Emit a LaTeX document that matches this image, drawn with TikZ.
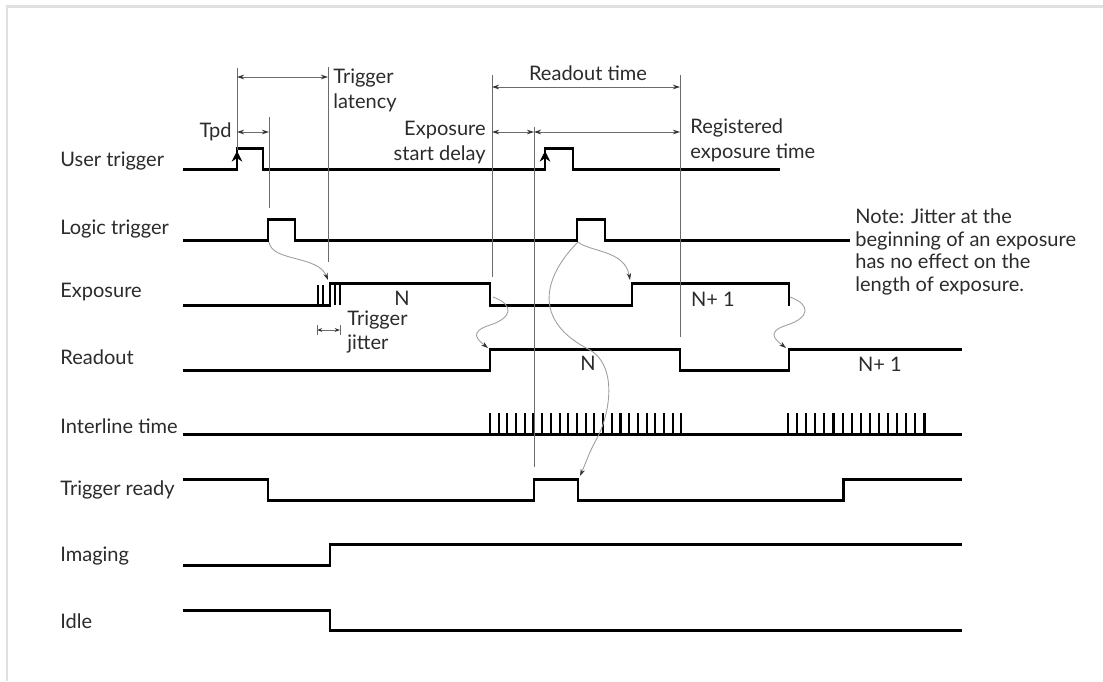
\documentclass[tikz,border=0pt]{standalone}
\usepackage{fontspec}
\setmainfont{Lato}
\usetikzlibrary{calc}
\usetikzlibrary{arrows.meta}
\definecolor{framegray}{rgb}{0.88,0.88,0.88}
\definecolor{guidegray}{rgb}{0.42,0.42,0.42}
\definecolor{curvegray}{rgb}{0.62,0.62,0.62}
\definecolor{txtgray}{rgb}{0.17,0.17,0.17}
\tikzstyle{every node}=[font=\fontsize{11.4}{14.2}\selectfont,text=txtgray,inner sep=0pt]

\begin{document}
\begin{tikzpicture}[line join=miter,>={Stealth[length=4pt,width=2.6pt,color=black!80]},x=0.02cm,y=-0.02cm,
    sig/.style={line width=1.7pt},
    tick/.style={line width=1.2pt},
    guide/.style={line width=0.5pt,color=guidegray},
    dim/.style={<->,line width=0.5pt,color=guidegray},
    cause/.style={->,line width=0.5pt,color=curvegray}]
            \useasboundingbox (0,0) rectangle (1103,681);
            \draw [line width=1.2pt,color=framegray] (7,681) -- (7,6.5) -- (1103,6.5);
            % signal names
            \node (lUser) [anchor=west] at (60,161) {User trigger};
            \node (lLogic) [anchor=west] at (60,229) {Logic trigger};
            \node (lExpo) [anchor=west] at (60,292) {Exposure};
            \node (lRead) [anchor=west] at (60,357) {Readout};
            \node (lLine) [anchor=west] at (60,426) {Interline time};
            \node (lReady) [anchor=west] at (60,490) {Trigger ready};
            \node (lImag) [anchor=west] at (60,556) {Imaging};
            \node (lIdle) [anchor=west] at (60,621) {Idle};
            % waveforms
            \draw [sig] (183,169) -- (237,169) -- (237,148) -- (263,148) -- (263,169) -- (545,169) -- (545,148) -- (573,148) -- (573,169) -- (780,169);
            \draw [-{Stealth[length=6pt,width=6pt]},line width=1pt] (237,166) -- (237,151);
            \draw [-{Stealth[length=6pt,width=6pt]},line width=1pt] (545,166) -- (545,151);
            \draw [sig] (183,240) -- (268,240) -- (268,219) -- (295,219) -- (295,240) -- (577,240) -- (577,219) -- (605,219) -- (605,240) -- (850,240);
            \draw [sig] (183,305) -- (330,305) -- (330,283) -- (490,283) -- (490,305) -- (632,305) -- (632,283) -- (789,283) -- (789,306);
            \foreach \x in {318,323,335,340}
                \draw [tick] (\x,305) -- (\x,285);
            \draw [sig] (183,370) -- (490,370) -- (490,349) -- (680,349) -- (680,370) -- (789,370) -- (789,349) -- (962,349);
            \draw [sig] (183,434) -- (962,434);
            \foreach \x in {0,...,22}
                \draw [tick] ({490+\x*8.7},434) -- ({490+\x*8.7},413);
            \foreach \x in {0,...,15}
                \draw [tick] ({788+\x*9.1},434) -- ({788+\x*9.1},413);
            \draw [sig] (183,479) -- (268,479) -- (268,500) -- (534,500) -- (534,479) -- (578,479) -- (578,500) -- (843,500) -- (843,479) -- (962,479);
            \draw [sig] (183,565) -- (330,565) -- (330,544) -- (962,544);
            \draw [sig] (183,610) -- (330,610) -- (330,630) -- (962,630);
            % guide lines
            \draw [guide] (237,68) -- (237,150);
            \draw [guide] (269,117) -- (269,208);
            \draw [guide] (328,67) -- (328,262);
            \draw [guide] (492,75) -- (492,277);
            \draw [guide] (680,75) -- (680,337);
            \draw [guide] (534,127) -- (534,467);
            \draw [dim] (237,132) -- (269,132);
            \draw [dim] (237,77) -- (328,77);
            \draw [dim] (492,87) -- (680,87);
            \draw [dim] (492,132) -- (534,132);
            \draw [dim] (534,132) -- (680,132);
            \draw [dim,>={Stealth[length=3pt,width=2.2pt,color=black!80]}] (317,330) -- (340,330);
            \draw [guide] (317,325) -- (317,335);
            \draw [guide] (340,325) -- (340,335);
            % timing labels
            \node (tpd) [anchor=east] at (232,132) {Tpd};
            \node (latency) [anchor=west,align=left] at (333,90) {Trigger\\latency};
            \node (readtime) at (588,73) {Readout time};
            \node (delay) [anchor=east,align=right] at (486,143) {Exposure\\start delay};
            \node (regtime) [anchor=west,align=left] at (690,140) {Registered\\exposure time};
            \node (jitter) [anchor=west,align=left] at (347,332) {Trigger\\jitter};
            \node (expoN) at (402,298) {N};
            \node (expoN1) at (713,299) {N+ 1};
            \node (readN) at (588,363) {N};
            \node (readN1) at (880,364) {N+ 1};
            \node (note) [anchor=west,align=left,font=\fontsize{11.4}{13}\selectfont] at (855,252) {Note: Jitter at the\\beginning of an exposure\\has no effect on the\\length of exposure.};
            % cause curves
            \coordinate (lt1) at (269,242);
            \coordinate (ex1) at (328,280);
            \coordinate (exN) at (493,297);
            \coordinate (rdN) at (488,348);
            \coordinate (lt2) at (578,242);
            \coordinate (ex2) at (630,280);
            \coordinate (rdy2) at (580,476);
            \coordinate (exN1) at (790,297);
            \coordinate (rdN1) at (786,348);
            \draw [cause] (lt1) .. controls (272,262) and (318,255) .. (ex1);
            \draw [cause] (exN) .. controls (515,305) and (512,318) .. (490,325) .. controls (468,332) and (478,340) .. (rdN);
            \draw [cause] (lt2) .. controls (590,252) and (625,250) .. (ex2);
            \draw [cause] (lt2) .. controls (545,275) and (530,320) .. (590,350) .. controls (620,368) and (608,420) .. (596,440) .. controls (588,455) and (585,465) .. (rdy2);
            \draw [cause] (exN1) .. controls (812,305) and (809,318) .. (787,325) .. controls (765,332) and (776,340) .. (rdN1);
\end{tikzpicture}
\end{document}
